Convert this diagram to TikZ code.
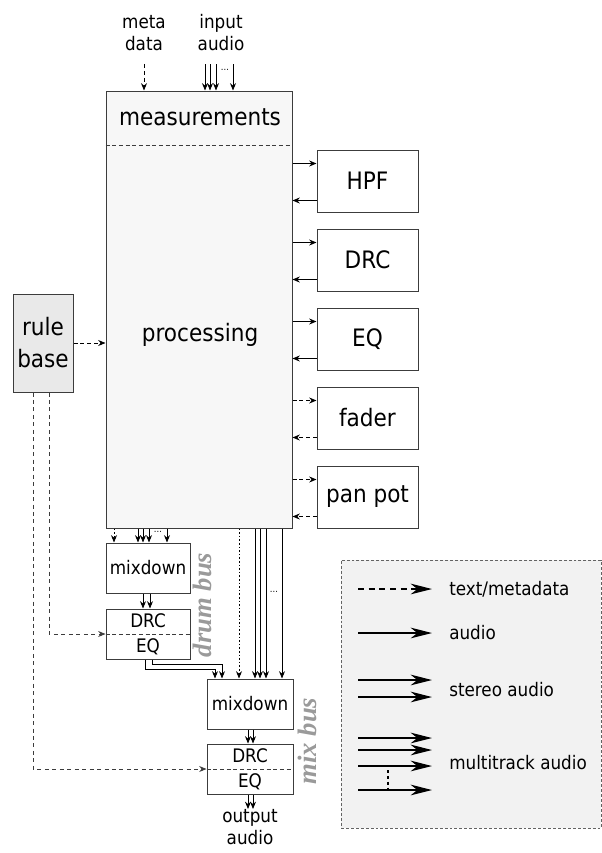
\documentclass[tikz,border=0pt]{standalone}
\usepackage{fontspec}
\setmainfont{DejaVu Sans}[FakeStretch=0.9]
\newfontfamily\busfont{Liberation Serif}
\usetikzlibrary{arrows.meta,calc}

\definecolor{edge}{HTML}{3C3C3C}
\definecolor{procfill}{HTML}{F7F7F7}
\definecolor{rulefill}{HTML}{E9E9E9}
\definecolor{legfill}{HTML}{F2F2F2}
\definecolor{busgray}{HTML}{9A9A9A}

\newcommand\bigfont{\fontsize{18}{24}\selectfont}
\newcommand\smallfont{\fontsize{14}{16.5}\selectfont}

\tikzset{
  box/.style={draw=edge, line width=0.75pt, inner sep=0pt},
  tip/.tip={Stealth[length=5.5pt,width=4.5pt,inset=1.8pt]},
  bigtip/.tip={Stealth[length=16pt,width=8pt,inset=5pt]},
  audio/.style={draw=black, line width=0.7pt, -tip},
  meta/.style={audio, dash pattern=on 3pt off 2.2pt},
  metadot/.style={audio, dash pattern=on 1.2pt off 1.5pt},
  divider/.style={draw=edge, line width=0.7pt, dash pattern=on 3pt off 2pt},
  ruleline/.style={draw=edge, line width=0.7pt, dash pattern=on 3pt off 2.6pt},
  legline/.style={draw=black, line width=1pt, -bigtip},
  lbl/.style={inner sep=0pt, font=\smallfont, align=center},
  biglbl/.style={inner sep=0pt, font=\bigfont, align=center},
  fx/.style={box, minimum width=75.75pt, minimum height=46.5pt, font=\bigfont},
  small/.style={box, font=\smallfont, minimum height=37.5pt},
  bus/.style={font=\busfont\bfseries\itshape\fontsize{20}{20}\selectfont, text=busgray, rotate=90, inner sep=0pt},
  dots/.style={inner sep=0pt, font=\fontsize{7}{7}\selectfont}
}

\begin{document}
\begin{tikzpicture}[x=0.75pt, y=-0.75pt]
\useasboundingbox (0,0) rectangle (602,853);

% main processing block
\node[box, fill=procfill, minimum width=139.5pt, minimum height=327.75pt] (proc) at (199,309.5) {};
\node[biglbl] (meas) at (200,117) {measurements};
\node[biglbl] (procl) at (200,335) {processing};
\draw[divider] (proc.west |- 0,145) -- (proc.east |- 0,145);

% inputs on top
\node[lbl] (md) at (144,33) {meta\\data};
\node[lbl] (ia) at (221,33) {input\\audio};
\coordinate (md-end) at ($(md.south)+(0,13)$);
\coordinate (ia-end) at ($(ia.south)+(0,13)$);
\draw[meta] (md-end) -- (md-end |- proc.north);
\foreach \x in {205,210,216,233}
  \draw[audio] (ia-end -| \x,0) -- (proc.north -| \x,0);
\node[dots] (iadots) at (225,70) {...};

% effect blocks on the right
\node[fx] (hpf) at (367.5,181) {HPF};
\node[fx] (drc) at (367.5,260) {DRC};
\node[fx] (eq)  at (367.5,339) {EQ};
\node[fx] (fad) at (367.5,418) {fader};
\node[fx] (pan) at (367.5,497) {pan pot};
\foreach \b/\s in {hpf/audio, drc/audio, eq/audio, fad/meta, pan/meta} {
  \coordinate (\b-in) at ($(\b.north west)+(0,14)$);
  \coordinate (\b-out) at ($(\b.south west)+(0,-12)$);
  \draw[\s] (proc.east |- \b-in) -- (\b-in);
  \draw[\s] (\b-out) -- (proc.east |- \b-out);
}

% rule base
\node[box, fill=rulefill, minimum width=45pt, minimum height=73.5pt, font=\bigfont, align=center] (rule) at (43,343) {rule\\base};
\draw[meta] (rule.east) -- (rule.east -| proc.west);

% drum bus
\node[small, minimum width=63pt] (dm) at (148,568) {mixdown};
\node[small, minimum width=63pt] (dc) at (148,634) {};
\node[lbl] (dcdrc) at (148,621) {DRC};
\node[lbl] (dceq) at (148,647) {EQ};
\draw[divider] (dc.west) -- (dc.east);
\node[bus] (drumbus) at (202,605) {drum bus};

\draw[metadot] (proc.south -| 114,0) -- (dm.north -| 114,0);
\foreach \x in {138,143,149,167}
  \draw[audio] (proc.south -| \x,0) -- (dm.north -| \x,0);
\node[dots] (dmdots) at (158,532) {...};
\foreach \x in {143,150}
  \draw[audio] (dm.south -| \x,0) -- (dc.north -| \x,0);

% mix bus
\node[small, minimum width=64.5pt] (mm) at (250,704) {mixdown};
\node[small, minimum width=64.5pt] (mc) at (250,769) {};
\node[lbl] (mcdrc) at (250,756) {DRC};
\node[lbl] (mceq) at (250,782) {EQ};
\draw[divider] (mc.west) -- (mc.east);
\node[bus] (mixbus) at (307,741) {mix bus};

\draw[metadot] (proc.south -| 239,0) -- (mm.north -| 239,0);
\foreach \x in {255,260,266,282}
  \draw[audio] (proc.south -| \x,0) -- (mm.north -| \x,0);
\node[dots] (mmdots) at (274,592) {...};
\draw[audio] (dc.south -| 145,0) -- ++(0,10) -| (mm.north -| 215,0);
\draw[audio] (dc.south -| 152,0) -- ++(0,5) -| (mm.north -| 222,0);
\foreach \x in {248,253}
  \draw[audio] (mm.south -| \x,0) -- (mc.north -| \x,0);

% output
\node[lbl, anchor=north] (oa) at (250,809) {output\\audio};
\foreach \x in {248,253}
  \draw[audio] (mc.south -| \x,0) -- (oa.north -| \x,0);

% rule base control lines
\coordinate (rl1) at ($(rule.south)+(-10,0)$);
\coordinate (rl2) at ($(rule.south)+(6,0)$);
\draw[ruleline, -tip] (rl1) |- (mc.west);
\draw[ruleline, -tip] (rl2) |- (dc.west);

% legend
\node[draw=edge!80, fill=legfill, line width=0.6pt, dash pattern=on 2.2pt off 1.5pt, minimum width=195pt, minimum height=201pt, inner sep=0pt] (leg) at (471,694) {};
\coordinate (la) at (358,589);
\coordinate (lb) at (358,633);
\coordinate (lc1) at (358,680);
\coordinate (lc2) at (358,697);
\coordinate (ld1) at (358,738);
\coordinate (ld2) at (358,750);
\coordinate (ld3) at (358,766);
\coordinate (ld4) at (358,790);
\draw[legline, dash pattern=on 4.5pt off 3.5pt] (la) -- ++(74,0);
\draw[legline] (lb) -- ++(74,0);
\draw[legline] (lc1) -- ++(74,0);
\draw[legline] (lc2) -- ++(74,0);
\foreach \c in {ld1,ld2,ld3,ld4}
  \draw[legline] (\c) -- ++(74,0);
\draw[line width=2.2pt, dash pattern=on 2.2pt off 2.2pt] ($(ld3)+(30,4)$) -- ($(ld4)+(30,-2)$);
\node[lbl, anchor=west] (lta) at (449,589) {text/metadata};
\node[lbl, anchor=west] (ltb) at (449,633) {audio};
\node[lbl, anchor=west] (ltc) at (449,690) {stereo audio};
\node[lbl, anchor=west] (ltd) at (449,763) {multitrack audio};
\end{tikzpicture}
\end{document}
